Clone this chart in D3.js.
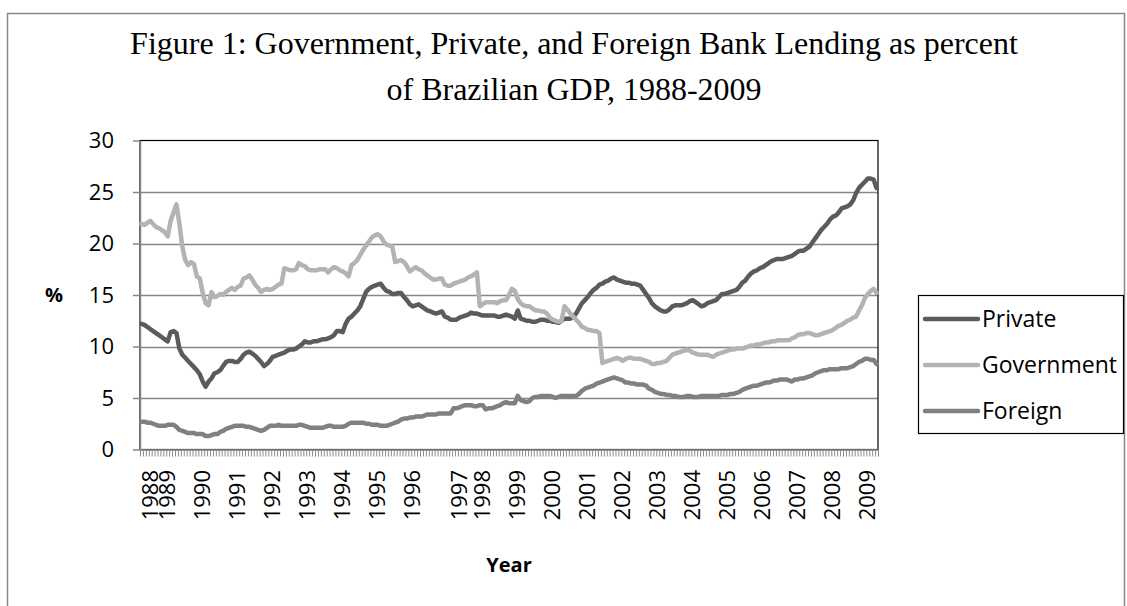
<!DOCTYPE html>
<html>
<head>
<meta charset="utf-8">
<script src="https://cdn.jsdelivr.net/npm/d3@7"></script>
<style>
  html, body { margin: 0; padding: 0; background: #fff; }
  svg { display: block; }
</style>
</head>
<body>
<svg id="chart" width="1127" height="606"></svg>
<script>
// Monthly bank lending as % of GDP, from April 1988
const startMonth = "1988-04";

const privateLending = [
  12.2, 12.1, 11.9, 11.7, 11.5, 11.3, 11.1, 10.9, 10.7, 10.5,
  11.4, 11.5, 11.3, 9.8, 9.2, 8.9, 8.6, 8.3, 8.0, 7.7,
  7.3, 6.6, 6.1, 6.6, 6.9, 7.4, 7.5, 7.7, 8.1, 8.5,
  8.6, 8.6, 8.5, 8.5, 8.8, 9.2, 9.4, 9.5, 9.3, 9.1,
  8.8, 8.5, 8.1, 8.3, 8.6, 9.0, 9.1, 9.2, 9.3, 9.4,
  9.6, 9.7, 9.7, 9.8, 10.0, 10.2, 10.5, 10.4, 10.4, 10.5,
  10.5, 10.6, 10.7, 10.7, 10.8, 10.9, 11.1, 11.5, 11.5, 11.4,
  12.2, 12.7, 12.9, 13.2, 13.5, 13.9, 14.6, 15.3, 15.6, 15.8,
  15.9, 16.0, 16.1, 15.7, 15.4, 15.3, 15.1, 15.1, 15.2, 15.2,
  14.8, 14.5, 14.1, 13.9, 14.0, 14.1, 13.9, 13.7, 13.5, 13.4,
  13.3, 13.2, 13.3, 13.4, 12.9, 12.8, 12.6, 12.6, 12.6, 12.8,
  12.9, 13.0, 13.1, 13.3, 13.2, 13.2, 13.1, 13.0, 13.0, 13.0,
  13.0, 13.0, 12.9, 12.9, 13.0, 13.1, 13.0, 12.9, 12.7, 13.5,
  12.7, 12.6, 12.5, 12.5, 12.4, 12.4, 12.5, 12.6, 12.6, 12.5,
  12.5, 12.4, 12.4, 12.3, 12.5, 12.7, 12.7, 12.7, 12.9, 13.2,
  13.7, 14.2, 14.5, 14.8, 15.2, 15.5, 15.7, 16.0, 16.1, 16.3,
  16.4, 16.6, 16.7, 16.5, 16.4, 16.3, 16.2, 16.2, 16.1, 16.1,
  16.0, 15.9, 15.5, 15.1, 14.7, 14.2, 13.9, 13.7, 13.5, 13.4,
  13.4, 13.6, 13.9, 14.0, 14.0, 14.0, 14.1, 14.2, 14.4, 14.5,
  14.3, 14.1, 13.9, 14.0, 14.2, 14.3, 14.4, 14.5, 14.8, 15.1,
  15.1, 15.2, 15.3, 15.4, 15.5, 15.8, 16.2, 16.4, 16.8, 17.1,
  17.3, 17.4, 17.6, 17.7, 17.9, 18.1, 18.3, 18.4, 18.5, 18.5,
  18.5, 18.6, 18.7, 18.8, 19.0, 19.2, 19.3, 19.3, 19.5, 19.7,
  20.1, 20.5, 20.9, 21.3, 21.6, 21.9, 22.3, 22.6, 22.7, 23.0,
  23.4, 23.5, 23.6, 23.8, 24.2, 24.9, 25.4, 25.7, 26.0, 26.3,
  26.3, 26.2, 25.4
];

const governmentLending = [
  21.9, 21.8, 22.0, 22.2, 21.9, 21.6, 21.5, 21.3, 21.1, 20.7,
  22.2, 23.0, 23.8, 21.9, 19.7, 18.4, 17.9, 18.2, 18.0, 16.8,
  16.6, 15.2, 14.2, 14.0, 15.3, 14.8, 14.9, 15.1, 15.0, 15.3,
  15.5, 15.7, 15.5, 15.8, 15.9, 16.6, 16.7, 16.9, 16.5, 16.0,
  15.7, 15.3, 15.5, 15.6, 15.5, 15.6, 15.8, 16.0, 16.1, 17.6,
  17.5, 17.4, 17.4, 17.5, 18.1, 17.9, 17.8, 17.5, 17.4, 17.4,
  17.4, 17.5, 17.5, 17.5, 17.2, 17.5, 17.7, 17.6, 17.4, 17.3,
  17.1, 16.8, 17.9, 18.1, 18.4, 18.9, 19.4, 19.8, 20.2, 20.6,
  20.8, 20.9, 20.7, 20.2, 19.9, 19.8, 19.7, 18.2, 18.3, 18.4,
  18.2, 17.8, 17.3, 17.5, 17.7, 17.5, 17.4, 17.1, 16.9, 16.7,
  16.5, 16.5, 16.6, 16.6, 16.0, 15.9, 15.9, 16.1, 16.2, 16.3,
  16.4, 16.5, 16.7, 16.8, 17.0, 17.2, 13.9, 14.1, 14.3, 14.3,
  14.3, 14.3, 14.2, 14.4, 14.5, 14.5, 15.0, 15.6, 15.4, 14.6,
  14.2, 14.0, 13.9, 13.9, 13.7, 13.5, 13.5, 13.4, 13.4, 13.2,
  12.8, 12.6, 12.5, 12.4, 12.5, 13.9, 13.6, 13.2, 12.9, 12.6,
  12.3, 11.9, 11.8, 11.6, 11.6, 11.5, 11.5, 11.3, 8.4, 8.5,
  8.6, 8.7, 8.8, 8.9, 8.8, 8.6, 8.8, 8.9, 8.9, 8.8,
  8.8, 8.8, 8.7, 8.6, 8.5, 8.3, 8.3, 8.4, 8.4, 8.5,
  8.6, 8.9, 9.2, 9.3, 9.4, 9.5, 9.6, 9.7, 9.6, 9.4,
  9.3, 9.2, 9.2, 9.2, 9.2, 9.1, 9.0, 9.2, 9.3, 9.4,
  9.5, 9.6, 9.7, 9.7, 9.8, 9.8, 9.8, 9.9, 10.0, 10.1,
  10.1, 10.2, 10.2, 10.3, 10.4, 10.4, 10.5, 10.5, 10.6, 10.6,
  10.6, 10.6, 10.6, 10.8, 10.9, 11.1, 11.2, 11.2, 11.3, 11.3,
  11.2, 11.1, 11.1, 11.2, 11.3, 11.4, 11.5, 11.6, 11.8, 12.0,
  12.1, 12.3, 12.5, 12.6, 12.8, 12.9, 13.5, 14.0, 14.7, 15.1,
  15.4, 15.6, 15.2
];

const foreignLending = [
  2.7, 2.7, 2.6, 2.6, 2.5, 2.4, 2.3, 2.3, 2.3, 2.4,
  2.4, 2.4, 2.2, 1.9, 1.8, 1.7, 1.6, 1.6, 1.6, 1.5,
  1.5, 1.5, 1.3, 1.3, 1.4, 1.5, 1.5, 1.7, 1.8, 2.0,
  2.1, 2.2, 2.3, 2.3, 2.3, 2.3, 2.2, 2.2, 2.1, 2.0,
  1.9, 1.8, 1.9, 2.1, 2.3, 2.3, 2.3, 2.4, 2.3, 2.3,
  2.3, 2.3, 2.3, 2.3, 2.4, 2.4, 2.3, 2.2, 2.1, 2.1,
  2.1, 2.1, 2.1, 2.2, 2.3, 2.3, 2.2, 2.2, 2.2, 2.2,
  2.3, 2.5, 2.6, 2.6, 2.6, 2.6, 2.6, 2.5, 2.5, 2.4,
  2.4, 2.4, 2.3, 2.3, 2.3, 2.4, 2.5, 2.6, 2.7, 2.9,
  3.0, 3.0, 3.1, 3.1, 3.2, 3.2, 3.2, 3.3, 3.4, 3.4,
  3.4, 3.4, 3.5, 3.5, 3.5, 3.5, 3.5, 4.0, 4.0, 4.1,
  4.2, 4.3, 4.3, 4.3, 4.2, 4.2, 4.3, 4.3, 3.9, 4.0,
  4.0, 4.1, 4.2, 4.3, 4.5, 4.6, 4.5, 4.5, 4.5, 5.2,
  4.8, 4.7, 4.6, 4.7, 5.0, 5.1, 5.1, 5.2, 5.2, 5.2,
  5.2, 5.1, 5.0, 5.1, 5.2, 5.2, 5.2, 5.2, 5.2, 5.2,
  5.4, 5.7, 5.9, 6.0, 6.1, 6.2, 6.4, 6.5, 6.6, 6.7,
  6.8, 6.9, 7.0, 6.9, 6.8, 6.7, 6.5, 6.5, 6.4, 6.4,
  6.3, 6.3, 6.3, 6.2, 5.9, 5.8, 5.6, 5.5, 5.4, 5.4,
  5.3, 5.3, 5.2, 5.2, 5.1, 5.1, 5.1, 5.2, 5.2, 5.1,
  5.1, 5.1, 5.2, 5.2, 5.2, 5.2, 5.2, 5.2, 5.2, 5.3,
  5.3, 5.3, 5.4, 5.4, 5.5, 5.6, 5.8, 5.9, 6.0, 6.1,
  6.2, 6.2, 6.3, 6.4, 6.5, 6.5, 6.6, 6.7, 6.7, 6.8,
  6.8, 6.8, 6.7, 6.6, 6.8, 6.8, 6.9, 6.9, 7.0, 7.1,
  7.2, 7.4, 7.5, 7.6, 7.7, 7.7, 7.8, 7.8, 7.8, 7.8,
  7.9, 7.9, 7.9, 8.0, 8.1, 8.3, 8.5, 8.6, 8.8, 8.8,
  8.7, 8.7, 8.3
];

// Year labels on the category axis and the month each one sits on
const yearLabels = ["1988", "1989", "1990", "1991", "1992", "1993", "1994", "1995",
  "1996", "1997", "1998", "1999", "2000", "2001", "2002", "2003", "2004", "2005",
  "2006", "2007", "2008", "2009"];
const yearLabelMonths = ["1988-07", "1989-01", "1990-01", "1991-01", "1992-01", "1993-01",
  "1994-01", "1995-01", "1996-01", "1997-05", "1998-01", "1999-01", "2000-01", "2001-01",
  "2002-01", "2003-01", "2004-01", "2005-01", "2006-01", "2007-01", "2008-01", "2009-01"];

const yTicks = [0, 5, 10, 15, 20, 25, 30];

const series = [
  { name: "Private", values: privateLending, color: "#5b5b5b" },
  { name: "Government", values: governmentLending, color: "#b3b3b3" },
  { name: "Foreign", values: foreignLending, color: "#808080" }
];

// month string -> category index
const [sy, sm] = startMonth.split("-").map(Number);
const monthIndex = s => {
  const [y, m] = s.split("-").map(Number);
  return (y - sy) * 12 + (m - sm);
};

const N = privateLending.length;
const plot = { left: 140, right: 878, top: 140.5, bottom: 449.5 };

const x = d3.scaleLinear().domain([0, N]).range([plot.left, plot.right]);
const y = d3.scaleLinear().domain([0, 30]).range([plot.bottom, plot.top]);

const svg = d3.select("#chart");
const sans = "'Open Sans', 'Noto Sans', sans-serif";

// outer frame
svg.append("rect")
  .attr("x", 7.5).attr("y", 13.5)
  .attr("width", 1117).attr("height", 600)
  .attr("fill", "none").attr("stroke", "#878787").attr("stroke-width", 1.5);

// title
const title = svg.append("text")
  .attr("text-anchor", "middle")
  .attr("font-family", "'Liberation Serif', 'Times New Roman', serif")
  .attr("font-size", 32)
  .attr("fill", "#000");
title.append("tspan").attr("x", 574).attr("y", 54)
  .text("Figure 1: Government, Private, and Foreign Bank Lending as percent");
title.append("tspan").attr("x", 574).attr("y", 100)
  .text("of Brazilian GDP, 1988-2009");

// horizontal gridlines
svg.append("g")
  .selectAll("line")
  .data(yTicks.filter(t => t > 0 && t < 30))
  .join("line")
  .attr("x1", plot.left).attr("x2", plot.right)
  .attr("y1", d => Math.round(y(d)) + 0.5).attr("y2", d => Math.round(y(d)) + 0.5)
  .attr("stroke", "#878787").attr("stroke-width", 1.5);

// plot area border
svg.append("rect")
  .attr("x", plot.left).attr("y", plot.top)
  .attr("width", plot.right - plot.left).attr("height", plot.bottom - plot.top)
  .attr("fill", "none").attr("stroke", "#000").attr("stroke-width", 1.2);

// y axis
const yAxis = svg.append("g")
  .attr("transform", `translate(${plot.left},0)`)
  .call(d3.axisLeft(y).tickValues(yTicks).tickSize(7).tickPadding(19).tickSizeOuter(0));
yAxis.select(".domain").attr("stroke", "#878787").attr("stroke-width", 1.5);
yAxis.selectAll(".tick line").attr("stroke", "#878787").attr("stroke-width", 1.5);
yAxis.selectAll(".tick text")
  .attr("font-family", sans).attr("font-size", 22).attr("fill", "#000");

// x axis: one tick between every pair of months
const xAxis = svg.append("g")
  .attr("transform", `translate(0,${plot.bottom})`)
  .call(d3.axisBottom(x).tickValues(d3.range(N + 1)).tickFormat("").tickSize(7).tickSizeOuter(0));
xAxis.select(".domain").attr("stroke", "#878787").attr("stroke-width", 1.5);
xAxis.selectAll(".tick line").attr("stroke", "#8a8a8a").attr("stroke-width", 1);

// rotated year labels
svg.append("g")
  .selectAll("text")
  .data(yearLabels)
  .join("text")
  .attr("transform", (d, i) => `translate(${x(monthIndex(yearLabelMonths[i]) + 0.5)},470) rotate(-90)`)
  .attr("text-anchor", "end")
  .attr("dy", "0.35em")
  .attr("font-family", sans).attr("font-size", 22).attr("fill", "#000")
  .text(d => d);

// series lines
const line = d3.line()
  .x((d, i) => x(i + 0.5))
  .y(d => y(d));

svg.append("g")
  .selectAll("path")
  .data(series)
  .join("path")
  .attr("d", d => line(d.values))
  .attr("fill", "none")
  .attr("stroke", d => d.color)
  .attr("stroke-width", 4.5)
  .attr("stroke-linejoin", "round")
  .attr("stroke-linecap", "round");

// axis titles
svg.append("text")
  .attr("x", 54).attr("y", 295).attr("dy", "0.35em")
  .attr("text-anchor", "middle")
  .attr("font-family", sans).attr("font-size", 20).attr("font-weight", "bold")
  .text("%");

svg.append("text")
  .attr("x", (plot.left + plot.right) / 2).attr("y", 565).attr("dy", "0.35em")
  .attr("text-anchor", "middle")
  .attr("font-family", sans).attr("font-size", 20).attr("font-weight", "bold")
  .text("Year");

// legend
const legend = svg.append("g");
legend.append("rect")
  .attr("x", 918.5).attr("y", 295.5).attr("width", 205).attr("height", 138)
  .attr("fill", "#fff").attr("stroke", "#000").attr("stroke-width", 1.2);
const items = legend.selectAll("g.item")
  .data(series)
  .join("g")
  .attr("class", "item")
  .attr("transform", (d, i) => `translate(0,${319 + i * 46})`);
items.append("line")
  .attr("x1", 925).attr("x2", 978)
  .attr("stroke", d => d.color).attr("stroke-width", 4.5)
  .attr("stroke-linecap", "round");
items.append("text")
  .attr("x", 982).attr("dy", "0.35em")
  .attr("font-family", sans).attr("font-size", 23).attr("fill", "#000")
  .text(d => d.name);
</script>
</body>
</html>
